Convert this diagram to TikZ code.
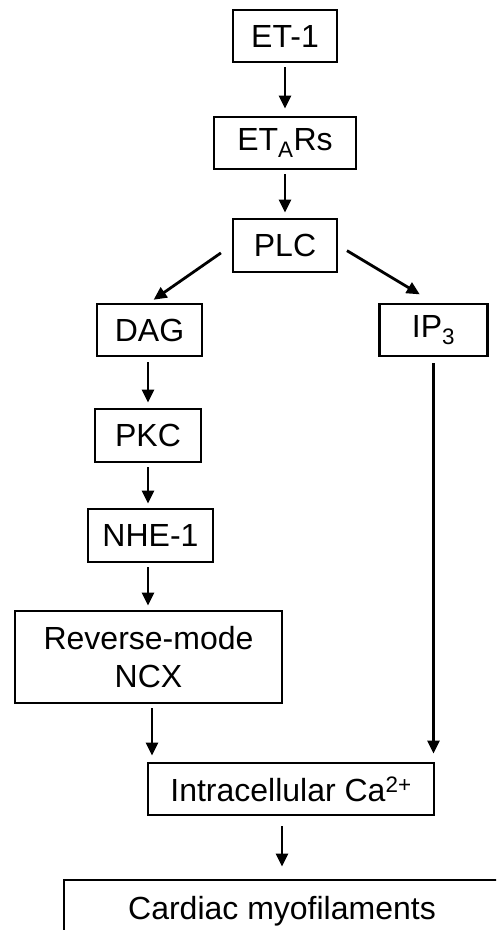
\documentclass[tikz,border=0pt]{standalone}
\usepackage{fontspec}
\setmainfont{Liberation Sans}
\usetikzlibrary{arrows.meta,calc}
\begin{document}
\begin{tikzpicture}[x=1pt,y=-1pt,
  box/.style={draw=black, line width=2.8pt, inner sep=0pt, align=center,
    font=\fontsize{32}{38}\selectfont},
  arr/.style={line width=2.8pt, -{Triangle[width=12pt,length=13pt]}}]
\useasboundingbox (0,0) rectangle (496,930);
\clip (0,0) rectangle (496,930);
\node[box, minimum width=104pt, minimum height=52pt] (et1) at (285,36) {ET-1};
\node[box, minimum width=142pt, minimum height=52pt] (etars) at (285,143) {ET\textsubscript{A}Rs};
\node[box, minimum width=104pt, minimum height=53pt] (plc) at (285,245.5) {PLC};
\node[box, minimum width=105pt, minimum height=52pt] (dag) at (149.5,330) {DAG};
\node[box, minimum width=108pt, minimum height=52pt] (ip3) at (433.5,330) {IP\textsubscript{3}};
\node[box, minimum width=106pt, minimum height=53pt] (pkc) at (148,435.5) {PKC};
\node[box, minimum width=125pt, minimum height=53pt] (nhe) at (150.5,535.5) {NHE-1};
\node[box, minimum width=267pt, minimum height=92pt] (ncx) at (148.5,657) {Reverse-mode\\NCX};
\node[box, minimum width=286pt, minimum height=52pt] (ca) at (291,789) {Intracellular Ca\textsuperscript{2+}};
\node[box, minimum width=436pt, minimum height=60pt, text depth=0pt] (card) at (282,910) {\raisebox{4pt}{Cardiac myofilaments}};
\coordinate (lx) at (148,0);
\draw[arr, shorten <=4pt, shorten >=7pt] (et1) -- (etars);
\draw[arr, shorten <=4pt, shorten >=5pt] (etars) -- (plc);
\draw[arr, shorten <=13pt, shorten >=5pt] (plc.west) -- (dag.north);
\draw[arr, shorten <=10pt, shorten >=16pt] (plc.east) -- (ip3.north);
\draw[arr, shorten <=5pt, shorten >=5pt] (dag.south -| lx) -- (pkc.north -| lx);
\draw[arr, shorten <=4pt, shorten >=4pt] (pkc.south -| lx) -- (nhe.north -| lx);
\draw[arr, shorten <=4pt, shorten >=4pt] (nhe.south -| lx) -- (ncx.north -| lx);
\coordinate (ncxout) at ($(ncx.south)+(3.5,0)$);
\draw[arr, shorten <=4pt, shorten >=6pt] (ncxout) -- (ncxout |- ca.north);
\draw[arr, shorten <=6pt, shorten >=8pt] (ip3.south) -- (ip3.south |- ca.north);
\draw[arr, shorten <=10pt, shorten >=12pt] (ca.south -| card.north) -- (card.north);
\end{tikzpicture}
\end{document}
